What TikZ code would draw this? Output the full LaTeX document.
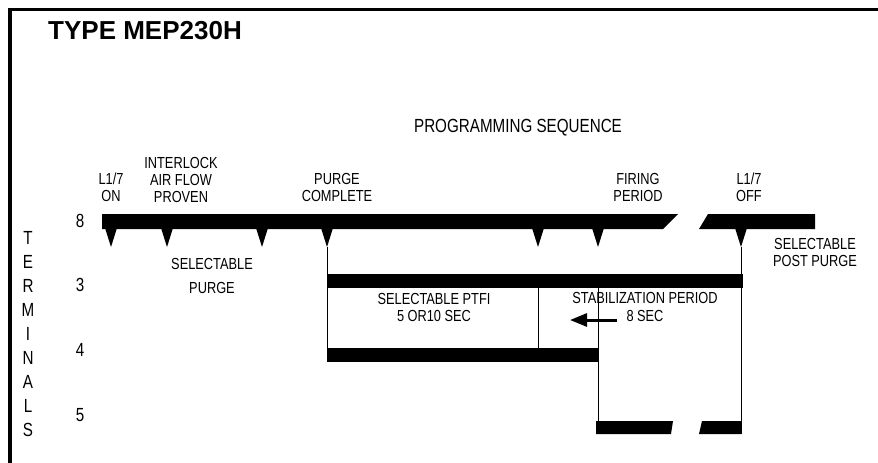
\documentclass[tikz,border=0pt]{standalone}
\usepackage{fontspec}
\setmainfont{Liberation Sans}
\newfontfamily\narrowfont{Liberation Sans}[FakeStretch=0.8]
\usetikzlibrary{arrows.meta}

\begin{document}
\begin{tikzpicture}[x=1pt, y=-1pt,
    lbl/.style = {font=\narrowfont\fontsize{16}{17}\selectfont, align=center, inner sep=0pt},
    num/.style = {font=\narrowfont\fontsize{19}{24}\selectfont, align=center, inner sep=0pt},
    wire/.style = {line width=1pt},
    pointer/.style = {line width=3pt, -{Triangle[length=17pt, width=13pt]}}]
  \useasboundingbox (0,0) rectangle (878,463);
  % frame
  \draw[line width=3.5pt] (878,9.5) -- (10,9.5) -- (10,463);
  \node[anchor=base west, inner sep=0pt, font=\bfseries\fontsize{26}{30}\selectfont] (title) at (48,39) {TYPE MEP230H};
  \node[lbl, font=\narrowfont\fontsize{19}{20}\selectfont] (seq) at (518,128) {PROGRAMMING SEQUENCE};
  % event labels
  \node[lbl] (on) at (111,187.5) {L1/7\\ON};
  \node[lbl] (air) at (181,179.5) {INTERLOCK\\AIR FLOW\\PROVEN};
  \node[lbl] (pc) at (337,187.5) {PURGE\\COMPLETE};
  \node[lbl] (fire) at (638,187.5) {FIRING\\PERIOD};
  \node[lbl] (off) at (749,187.5) {L1/7\\OFF};
  \node[lbl] (post) at (815,252.5) {SELECTABLE\\POST PURGE};
  \node[lbl] (purge) at (212,276) {SELECTABLE\\[7pt]PURGE};
  \node[lbl] (ptfi) at (434,307) {SELECTABLE PTFI\\5 OR10 SEC};
  \node[lbl] (stab) at (645,298) {STABILIZATION PERIOD};
  \node[lbl] (sec) at (645,315.5) {8 SEC};
  % terminals
  \node[num] (term) at (28,334.5) {T\\E\\R\\M\\I\\N\\A\\L\\S};
  \node[num] (n8) at (80,221) {8};
  \node[num] (n3) at (80,285) {3};
  \node[num] (n4) at (80,350) {4};
  \node[num] (n5) at (80,415) {5};
  % bars
  \fill (102,214) -- (678,214) -- (663,229) -- (102,229) -- cycle;
  \fill (708,214) -- (815,214) -- (815,229) -- (699,229) -- cycle;
  \fill (328,274) rectangle (743,288);
  \fill (327,348) rectangle (598,362);
  \fill (596,421) -- (673,421) -- (671,434) -- (596,434) -- cycle;
  \fill (702,421) -- (741,421) -- (741,434) -- (699,434) -- cycle;
  % ticks under terminal 8
  \coordinate (t1) at (111,247);
  \coordinate (t2) at (167,247);
  \coordinate (t3) at (262,247);
  \coordinate (t4) at (327,247);
  \coordinate (t5) at (538,247);
  \coordinate (t6) at (598,247);
  \coordinate (t7) at (741,247);
  \fill (105,228) -- (117,228) -- (t1) -- cycle;
  \fill (161,228) -- (173,228) -- (t2) -- cycle;
  \fill (256,228) -- (268,228) -- (t3) -- cycle;
  \fill (321,228) -- (333,228) -- (t4) -- cycle;
  \fill (532,228) -- (544,228) -- (t5) -- cycle;
  \fill (592,228) -- (604,228) -- (t6) -- cycle;
  \fill (735,228) -- (747,228) -- (t7) -- cycle;
  % timing lines
  \coordinate (b4) at (327,362);
  \coordinate (p3) at (538,288);
  \coordinate (p4) at (538,348);
  \coordinate (s3) at (598,288);
  \coordinate (s5) at (598,421);
  \coordinate (o5) at (741,434);
  \draw[wire] (t4) -- (b4);
  \draw[wire] (p3) -- (p4);
  \draw[wire] (s3) -- (s5);
  \draw[wire] (t7) -- (o5);
  \coordinate (tip) at (570,320);
  \draw[pointer] ([xshift=-9pt]sec.west |- tip) -- (tip);
\end{tikzpicture}
\end{document}
